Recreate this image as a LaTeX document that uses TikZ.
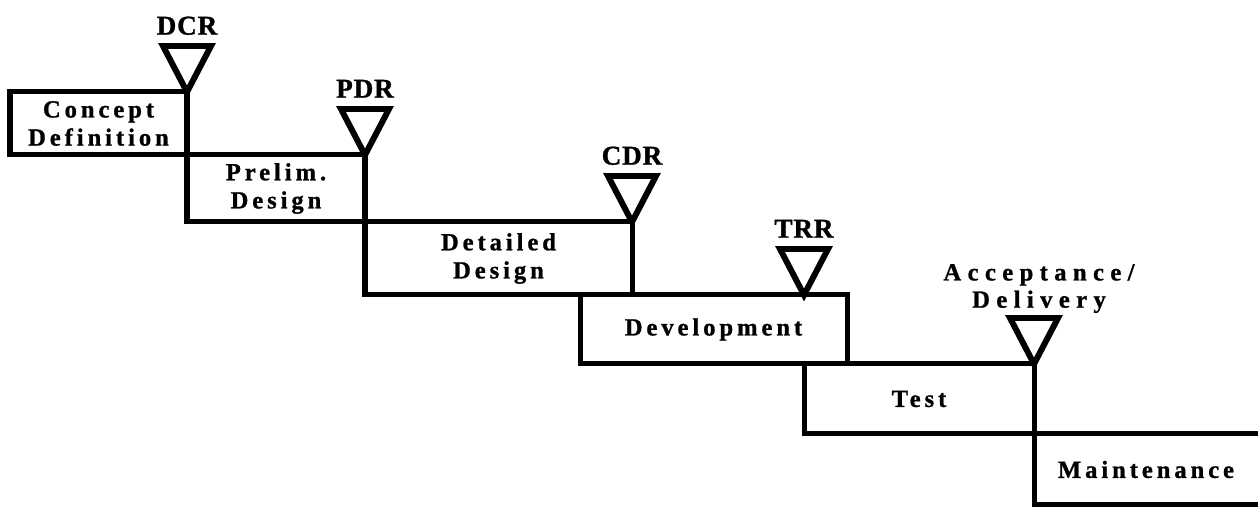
\documentclass[tikz,border=0pt]{standalone}
\usepackage{fontspec}
\setmainfont{Liberation Serif}
\newfontfamily\phasefont[LetterSpace=16,FakeBold=1]{Liberation Serif}
\newfontfamily\widefont[LetterSpace=26,FakeBold=1]{Liberation Serif}
\newfontfamily\milefont[LetterSpace=3,FakeBold=1]{Liberation Serif}
\usetikzlibrary{positioning,calc}

\tikzset{
  phase/.style={draw, line width=2.85pt, outer sep=0pt, inner sep=0pt, align=center,
    font={\phasefont\bfseries\fontsize{14}{16}\selectfont}},
  milestone/.style={draw, line width=3.4pt},
  mlabel/.style={anchor=south, inner sep=0pt, text depth=0pt, align=center,
    font={\milefont\bfseries\fontsize{15.5}{18}\selectfont}},
}

\begin{document}
\begin{tikzpicture}
    \useasboundingbox (0,0) rectangle (25.16,10.14);

    % Phases, stepping down
    \node[phase, minimum width=3.54cm, minimum height=1.26cm, anchor=north west] (concept) at (0.2,8.30) {Concept\\Definition};
    \node[phase, minimum width=3.56cm, minimum height=1.34cm, below right=0cm and 0cm of concept] (prelim) {Prelim.\\Design};
    \node[phase, minimum width=5.34cm, minimum height=1.46cm, below right=0cm and 0cm of prelim] (detail) {Detailed\\Design};
    \node[phase, minimum width=5.34cm, minimum height=1.38cm, below right=0cm and -1.04cm of detail] (devel) {Development};
    \node[phase, minimum width=4.60cm, minimum height=1.40cm, below right=0cm and -0.86cm of devel] (test) {Test};
    \node[phase, draw=none, minimum width=4.48cm, minimum height=1.42cm, below right=0cm and 0cm of test] (maint) {Maintenance};
    \draw[line width=2.85pt] (maint.north east) -- (maint.north west) -- (maint.south west) -- (maint.south east);

    % Review milestones
    \coordinate (dcr) at (concept.north east);
    \coordinate (pdr) at (prelim.north east);
    \coordinate (cdr) at (detail.north east);
    \coordinate (trr) at (test.west |- devel.north);
    \coordinate (acc) at (test.north east);

    \draw[milestone] (dcr) -- ++(-0.48,0.92) -- ++(0.96,0) -- cycle;
    \node[mlabel] (dcrlabel) at ($(dcr)+(0,1.14)$) {DCR};

    \draw[milestone] (pdr) -- ++(-0.48,0.92) -- ++(0.96,0) -- cycle;
    \node[mlabel] (pdrlabel) at ($(pdr)+(0,1.14)$) {PDR};

    \draw[milestone] (cdr) -- ++(-0.48,0.92) -- ++(0.96,0) -- cycle;
    \node[mlabel] (cdrlabel) at ($(cdr)+(0,1.14)$) {CDR};

    \draw[milestone] (trr) -- ++(-0.48,0.92) -- ++(0.96,0) -- cycle;
    \node[mlabel] (trrlabel) at ($(trr)+(0,1.14)$) {TRR};

    \draw[milestone] (acc) -- ++(-0.48,0.92) -- ++(0.96,0) -- cycle;
    \node[mlabel, font={\widefont\bfseries\fontsize{14}{15.5}\selectfont}] (acclabel) at ($(acc)+(0.1,1.12)$) {Acceptance/\\Delivery};
\end{tikzpicture}
\end{document}
